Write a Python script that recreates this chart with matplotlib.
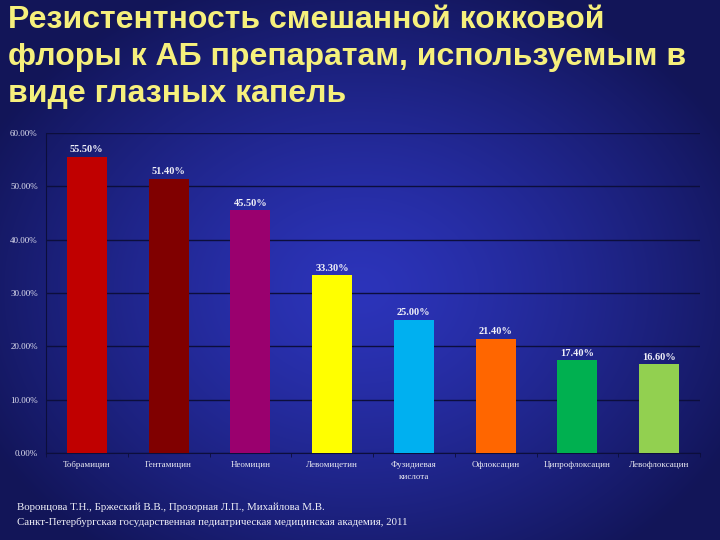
import numpy as np
import matplotlib
matplotlib.use("Agg")
import matplotlib.pyplot as plt

categories = ["Тобрамицин", "Гентамицин", "Неомицин", "Левомицетин",
              "Фузидиевая\nкислота", "Офлоксацин", "Ципрофлоксацин", "Левофлоксацин"]
values = [55.5, 51.4, 45.5, 33.3, 25.0, 21.4, 17.4, 16.6]
colors = ["#c00000", "#800000", "#9a006e", "#ffff00", "#00b0f0", "#ff6600", "#00b050", "#92d050"]
yticks = [0, 10, 20, 30, 40, 50, 60]

title_lines = ["Резистентность смешанной кокковой",
               "флоры к АБ препаратам, используемым в",
               "виде глазных капель"]
footer1 = "Воронцова Т.Н., Бржеский В.В., Прозорная Л.П., Михайлова М.В."
footer2 = "Санкт-Петербургская государственная педиатрическая медицинская академия, 2011"

W, H = 720, 540
fig = plt.figure(figsize=(7.2, 5.4), dpi=100)

# radial gradient background
bg = fig.add_axes([0, 0, 1, 1], zorder=-10)
yy, xx = np.mgrid[0:H, 0:W]
cx, cy = 360, 290
r = np.sqrt(((xx - cx) / 420.0) ** 2 + ((yy - cy) / 330.0) ** 2)
t = np.clip(r, 0, 1) ** 1.3
inner = np.array([0x2c, 0x34, 0xba]) / 255.0
outer = np.array([0x12, 0x15, 0x58]) / 255.0
img = inner[None, None, :] * (1 - t[..., None]) + outer[None, None, :] * t[..., None]
bg.imshow(img, aspect="auto", extent=[0, W, H, 0])
bg.set_axis_off()

# chart axes: left 46, right 700, top 133, bottom 453
ax = fig.add_axes([46 / W, 1 - 453 / H, (700 - 46) / W, (453 - 133) / H])
ax.patch.set_alpha(0)
x = np.arange(len(categories))
ax.bar(x, values, width=0.49, color=colors, zorder=3)
ax.set_xlim(-0.5, len(categories) - 0.5)
ax.set_ylim(0, 60)
ax.set_yticks(yticks)
ax.set_yticklabels([f"{v:.2f}%" for v in yticks], fontsize=6.5, color="#e0e0f0", family="Liberation Serif")
ax.yaxis.grid(True, color="#0c0e3c", linewidth=1.0, zorder=0)
ax.set_axisbelow(True)
ax.tick_params(axis="y", length=0, pad=6)
ax.set_xticks(x)
ax.set_xticklabels(categories, fontsize=6.5, color="#e8e8f0", family="Liberation Serif", linespacing=1.6)
ax.tick_params(axis="x", length=0, pad=6)
ax.set_xticks(np.arange(len(categories) + 1) - 0.5, minor=True)
ax.tick_params(axis="x", which="minor", length=3, color="#0c0e3c", direction="out")
for s in ["top", "right"]:
    ax.spines[s].set_visible(False)
ax.spines["left"].set_color("#0c0e3c")
ax.spines["bottom"].set_color("#0c0e3c")

for xi, v in zip(x, values):
    ax.text(xi, v + 0.5, f"{v:.2f}%", ha="center", va="bottom", fontsize=7.5,
            color="#f0f0f8", family="Liberation Serif", fontweight="bold")

for line, base in zip(title_lines, [28, 65, 102]):
    fig.text(8 / W, 1 - base / H, line, ha="left", va="baseline", fontsize=23, fontweight="bold",
             color="#f6f07c", family="Liberation Sans")

fig.text(17 / W, 1 - 507 / H, footer1, ha="left", va="center", fontsize=7.8, color="#f0f0f8",
         family="Liberation Serif")
fig.text(17 / W, 1 - 522 / H, footer2, ha="left", va="center", fontsize=7.8, color="#f0f0f8",
         family="Liberation Serif")

fig.savefig("out.png", dpi=100)
